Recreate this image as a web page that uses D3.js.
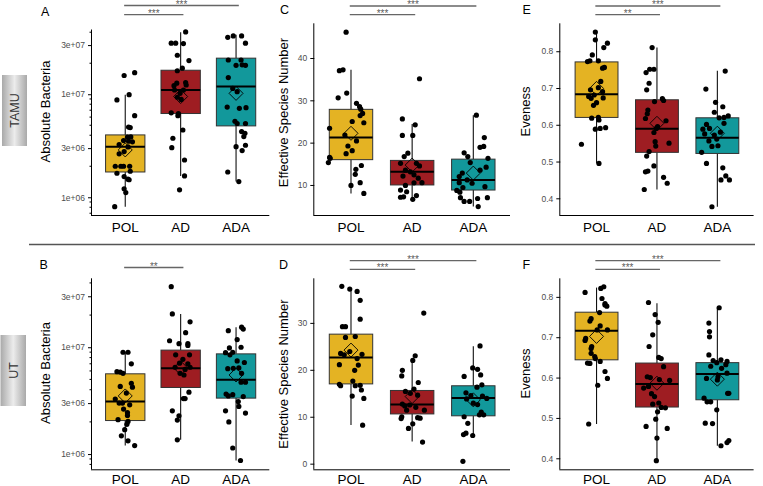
<!DOCTYPE html>
<html><head><meta charset="utf-8">
<script src="https://cdn.jsdelivr.net/npm/d3@7"></script>
<style>body{margin:0;background:#fff}svg{display:block;font-family:"Liberation Sans",Arial,Helvetica,sans-serif}</style>
</head><body><svg id="chart" width="763" height="486"></svg>
<script>
// ---------------- DATA ----------------
const categories = ["POL", "AD", "ADA"];
const groupColors = ["#E4B323", "#9E1D22", "#12989B"];
const rowLabels = ["TAMU", "UT"];
const logTicks = [1e6, 3e6, 1e7, 3e7];
const richTicks = [10, 20, 30, 40];
const richTicksUT = [0, 10, 20, 30];
const evenTicks = [0.4, 0.5, 0.6, 0.7, 0.8];

// box summaries: [lower whisker, Q1, median, Q3, upper whisker]
const boxA = [[8.1e5, 1.76e6, 3.1e6, 4.03e6, 9.9e6], [1.61e6, 6.5e6, 1.10e7, 1.71e7, 4.0e7], [1.42e6, 4.93e6, 1.19e7, 2.24e7, 3.77e7]];
const meanA = [2.88e6, 9.5e6, 1.02e7];
const boxB = [[1.2e6, 2.06e6, 3.1e6, 5.64e6, 8.98e6], [1.36e6, 4.2e6, 6.37e6, 9.4e6, 2.05e7], [8.7e5, 3.34e6, 4.95e6, 8.67e6, 1.54e7]];
const meanB = [3.5e6, 6.4e6, 5.5e6];
const boxC = [[8.0, 15.98, 21.2, 27.87, 37.2], [6.6, 10.0, 13.1, 15.8, 24.4], [4.9, 8.8, 11.2, 16.1, 26.5]];
const meanC = [22.2, 14.7, 12.8];
const boxD = [[8.25, 17.0, 22.6, 27.6, 37.2], [4.7, 10.6, 12.6, 15.6, 21.7], [6.0, 10.2, 14.0, 16.6, 25.0]];
const meanD = [24.2, 14.3, 13.6];
const boxE = [[0.495, 0.620, 0.683, 0.771, 0.852], [0.424, 0.525, 0.589, 0.668, 0.81], [0.377, 0.522, 0.565, 0.619, 0.747]];
const meanE = [0.699, 0.604, 0.577];
const boxF = [[0.485, 0.644, 0.716, 0.762, 0.823], [0.396, 0.527, 0.584, 0.636, 0.784], [0.431, 0.545, 0.609, 0.637, 0.773]];
const meanF = [0.702, 0.586, 0.596];

// individual samples: [value, jitter (fraction of category step)]
const ptsA_POL = [[1.52e7,-0.02],[1.62e7,0.17],[8.8e6,-0.15],[9.9e6,0.07],[6.2e6,0.17],[4.8e6,0.06],[4.75e6,0.09],[3.85e6,0.10],[3.83e6,0.04],[3.55e6,-0.03],[3.5e6,0.06],[3.45e6,0.13],[3.25e6,-0.11],[3.08e6,0.05],[2.78e6,-0.02],[2.64e6,-0.11],[2.0e6,-0.18],[2.0e6,-0.08],[2.0e6,-0.03],[2.0e6,0.08],[1.79e6,0.09],[1.71e6,-0.15],[1.59e6,-0.02],[1.50e6,0.05],[1.48e6,0.07],[1.21e6,-0.02],[1.11e6,0.01],[8.1e5,-0.19]];
const ptsA_AD = [[4.03e7,0.09],[3.13e7,-0.17],[3.13e7,-0.09],[3.1e7,0.05],[2.39e7,-0.06],[2.12e7,0.15],[1.79e7,0.03],[1.69e7,-0.06],[1.30e7,0.09],[1.28e7,-0.07],[1.23e7,0.10],[1.21e7,-0.12],[1.10e7,-0.11],[1.10e7,0.05],[1.02e7,-0.01],[9.35e6,-0.06],[8.9e6,0.01],[6.6e6,-0.17],[6.5e6,-0.04],[6.2e6,-0.05],[4.5e6,0.04],[3.74e6,-0.14],[3.03e6,-0.16],[2.30e6,0.07],[1.61e6,0.07],[1.18e6,-0.02]];
const ptsA_ADA = [[3.68e7,-0.05],[3.68e7,0.10],[3.57e7,-0.15],[3.13e7,0.17],[2.15e7,-0.14],[2.15e7,0.09],[1.91e7,0.0],[1.93e7,0.11],[1.91e7,0.17],[1.45e7,-0.14],[1.14e7,-0.06],[1.06e7,0.02],[7.5e6,-0.16],[7.3e6,0.06],[7.4e6,0.18],[5.47e6,-0.02],[5.2e6,0.02],[5.2e6,0.17],[4.34e6,0.10],[4.18e6,0.16],[3.88e6,0.14],[3.1e6,0.0],[3.2e6,0.17],[2.84e6,0.11],[1.76e6,-0.15],[1.42e6,0.05]];
const ptsB_POL = [[8.98e6,-0.04],[8.98e6,0.05],[7.0e6,0.11],[5.9e6,-0.15],[5.85e6,-0.09],[5.7e6,-0.04],[4.6e6,0.11],[4.23e6,0.13],[4.3e6,-0.09],[3.72e6,0.02],[3.27e6,-0.18],[3.0e6,-0.11],[3.0e6,-0.05],[2.89e6,0.08],[2.64e6,-0.03],[2.45e6,0.04],[2.3e6,0.04],[2.1e6,-0.13],[2.02e6,0.05],[1.9e6,0.03],[1.69e6,-0.01],[1.48e6,-0.07],[1.33e6,0.05],[1.2e6,0.17]];
const ptsB_AD = [[3.69e7,-0.17],[2.05e7,-0.15],[1.73e7,0.17],[1.37e7,0.09],[1.15e7,-0.2],[1.08e7,-0.03],[1.08e7,0.13],[1.04e7,0.13],[8.5e6,-0.09],[8.5e6,0.16],[7.7e6,0.04],[7.1e6,-0.02],[7.0e6,0.13],[6.5e6,-0.1],[6.5e6,0.17],[6.2e6,0.08],[5.7e6,-0.01],[5.5e6,0.06],[3.8e6,0.15],[3.31e6,0.05],[3.31e6,0.08],[2.54e6,-0.15],[2.28e6,-0.03],[2.08e6,-0.06],[1.36e6,-0.06]];
const ptsB_ADA = [[1.54e7,0.10],[1.48e7,0.13],[1.43e7,-0.14],[1.18e7,0.02],[9.86e6,-0.12],[1.0e7,0.09],[8.98e6,-0.06],[8.5e6,-0.11],[8.9e6,-0.19],[7.45e6,0.02],[7.2e6,0.15],[6.3e6,-0.15],[6.35e6,-0.05],[6.4e6,0.05],[5.7e6,0.10],[4.7e6,0.17],[4.7e6,0.09],[3.64e6,-0.18],[3.5e6,-0.14],[3.6e6,-0.06],[3.45e6,0.13],[3.1e6,0.04],[2.79e6,0.05],[2.54e6,-0.19],[2.42e6,0.17],[2.0e6,-0.13],[1.14e6,-0.06],[8.7e5,0.08]];
const ptsC_POL = [[46.1,-0.08],[37.0,-0.19],[37.2,-0.13],[31.7,-0.07],[30.6,-0.21],[29.3,0.09],[28.5,0.14],[27.9,0.16],[26.9,0.19],[26.4,0.15],[24.7,0.21],[25.0,0.02],[23.4,-0.35],[21.8,-0.10],[20.4,0.09],[19.2,-0.05],[18.1,0.02],[17.4,-0.08],[16.5,-0.35],[16.3,-0.34],[15.3,-0.37],[14.6,0.17],[13.7,0.08],[12.5,0.07],[10.55,0.15],[9.9,0.0],[8.0,0.21]];
const ptsC_AD = [[35.1,0.12],[25.6,-0.16],[24.2,0.05],[21.7,-0.16],[21.7,0.01],[17.5,-0.07],[16.7,-0.13],[15.1,0.07],[15.1,-0.19],[14.5,0.12],[13.5,-0.11],[13.1,-0.03],[12.4,0.03],[12.1,-0.15],[11.6,0.10],[10.55,0.16],[10.5,0.03],[9.9,-0.11],[8.8,-0.19],[8.4,-0.09],[7.2,-0.14],[7.1,-0.19],[7.5,0.07],[6.6,0.01]];
const ptsC_ADA = [[26.5,0.05],[21.2,0.18],[18.9,0.11],[19.1,0.17],[17.6,-0.15],[16.7,-0.09],[16.3,0.24],[15.3,-0.05],[14.2,0.21],[13.5,0.11],[12.8,-0.18],[12.0,-0.23],[11.2,-0.10],[10.55,-0.23],[10.4,-0.02],[9.6,0.19],[9.4,-0.17],[8.7,-0.27],[8.3,-0.22],[7.0,-0.21],[6.8,0.07],[7.0,0.23],[6.1,-0.06],[6.1,-0.15],[4.9,0.08]];
const ptsD_POL = [[37.8,-0.15],[37.2,-0.02],[36.7,0.10],[34.8,0.15],[30.8,0.15],[29.2,-0.14],[29.2,-0.09],[26.9,-0.09],[27.1,0.07],[23.5,-0.17],[23.2,-0.11],[23.3,0.18],[23.9,-0.02],[22.4,0.10],[21.1,-0.19],[21.0,0.12],[19.9,0.06],[16.9,-0.19],[16.6,-0.17],[17.6,0.03],[16.6,0.07],[16.7,0.15],[15.7,0.17],[14.4,0.02],[13.9,0.21],[8.2,0.19]];
const ptsD_AD = [[32.1,0.19],[23.0,0.05],[22.0,0.01],[19.9,-0.16],[18.7,-0.17],[17.3,0.10],[15.9,0.03],[15.4,-0.11],[15.0,-0.03],[14.6,0.09],[12.7,-0.16],[12.5,-0.04],[12.0,0.06],[12.3,-0.12],[11.4,-0.09],[11.4,0.20],[10.0,-0.17],[9.6,-0.18],[9.8,0.09],[9.7,0.13],[8.5,0.01],[7.5,-0.06],[4.6,0.17]];
const ptsD_ADA = [[25.1,0.11],[20.4,-0.01],[20.1,0.07],[18.9,0.12],[18.6,-0.15],[16.3,0.06],[16.8,0.14],[15.1,-0.12],[14.4,0.15],[13.9,0.22],[14.5,-0.04],[13.8,-0.11],[12.9,0.0],[12.6,0.07],[11.0,0.13],[10.4,0.10],[10.4,0.17],[10.0,-0.15],[8.6,-0.09],[6.5,-0.12],[6.2,-0.16],[6.0,-0.01],[0.5,-0.17]];
const ptsE_POL = [[0.852,-0.02],[0.831,-0.02],[0.822,0.18],[0.810,0.12],[0.790,-0.07],[0.772,-0.15],[0.774,-0.11],[0.774,0.03],[0.756,0.13],[0.754,0.10],[0.718,0.07],[0.701,0.03],[0.695,-0.10],[0.690,0.10],[0.681,-0.04],[0.677,-0.13],[0.672,-0.09],[0.673,0.11],[0.660,0.0],[0.653,-0.05],[0.620,0.03],[0.618,-0.08],[0.613,0.04],[0.592,0.15],[0.588,-0.02],[0.590,0.06],[0.547,-0.25],[0.495,0.04]];
const ptsE_AD = [[0.810,-0.08],[0.751,-0.12],[0.751,-0.05],[0.742,-0.18],[0.713,-0.13],[0.695,-0.17],[0.671,0.09],[0.666,0.11],[0.663,-0.04],[0.640,-0.15],[0.630,-0.16],[0.617,-0.19],[0.611,0.15],[0.595,0.01],[0.590,-0.01],[0.579,-0.05],[0.554,-0.03],[0.550,0.20],[0.542,-0.02],[0.527,-0.13],[0.515,-0.17],[0.488,-0.05],[0.474,-0.15],[0.472,-0.19],[0.457,0.11],[0.441,0.17],[0.424,-0.21]];
const ptsE_ADA = [[0.746,0.13],[0.697,-0.19],[0.661,-0.03],[0.649,0.09],[0.634,-0.05],[0.624,0.18],[0.620,0.11],[0.619,0.03],[0.604,0.11],[0.601,-0.18],[0.590,-0.13],[0.588,-0.24],[0.575,-0.21],[0.572,-0.05],[0.580,0.05],[0.561,-0.01],[0.556,-0.14],[0.543,0.01],[0.541,-0.09],[0.525,-0.26],[0.495,-0.18],[0.483,0.09],[0.461,0.14],[0.450,0.20],[0.450,0.06],[0.377,-0.09]];
const ptsF_POL = [[0.825,0.12],[0.821,0.07],[0.811,-0.19],[0.796,0.09],[0.783,0.14],[0.777,0.17],[0.780,0.14],[0.761,0.05],[0.746,-0.09],[0.740,-0.11],[0.728,0.06],[0.718,0.01],[0.718,0.18],[0.697,-0.18],[0.692,-0.19],[0.677,-0.08],[0.672,-0.09],[0.652,-0.03],[0.647,-0.02],[0.660,-0.09],[0.640,0.06],[0.636,-0.15],[0.635,-0.11],[0.615,0.14],[0.598,0.18],[0.581,0.02],[0.485,-0.13]];
const ptsF_AD = [[0.786,-0.14],[0.756,-0.03],[0.737,0.02],[0.706,-0.07],[0.677,-0.13],[0.650,0.03],[0.647,0.07],[0.627,0.11],[0.602,-0.16],[0.600,-0.11],[0.595,0.04],[0.593,0.21],[0.574,-0.22],[0.578,-0.14],[0.560,-0.09],[0.553,-0.04],[0.537,0.03],[0.534,-0.07],[0.526,0.07],[0.525,0.14],[0.515,0.01],[0.497,-0.02],[0.479,-0.18],[0.474,0.17],[0.450,0.0],[0.394,-0.01]];
const ptsF_ADA = [[0.773,0.03],[0.735,-0.14],[0.714,-0.13],[0.701,-0.13],[0.656,-0.14],[0.644,0.06],[0.642,-0.07],[0.640,0.16],[0.637,-0.01],[0.628,-0.11],[0.632,0.14],[0.623,0.07],[0.611,0.16],[0.602,0.01],[0.598,-0.18],[0.594,0.0],[0.561,0.17],[0.561,0.19],[0.549,-0.22],[0.540,-0.17],[0.540,-0.11],[0.520,-0.01],[0.487,-0.20],[0.486,-0.08],[0.444,0.19],[0.439,0.16],[0.431,0.06]];

// significance brackets: [from, to, label, level(0 = upper, 1 = lower)]
const sigA = [["POL","ADA","***",0],["POL","AD","***",1]];
const sigB = [["POL","AD","**",1]];
const sigC = [["POL","ADA","***",0],["POL","AD","***",1]];
const sigD = [["POL","ADA","***",0],["POL","AD","***",1]];
const sigE = [["POL","ADA","***",0],["POL","AD","**",1]];
const sigF = [["POL","ADA","***",0],["POL","AD","***",1]];

// ---------------- LAYOUT ----------------
const panels = [
  {letter:"A", title:"Absolute Bacteria", box:boxA, mean:meanA, pts:[ptsA_POL,ptsA_AD,ptsA_ADA], sig:sigA, log:true, domain:[6.73e5,4.25e7], ticks:logTicks,
   left:92, right:269.3, top:29.5, bottom:215, letterPos:[41,15.5], titleX:50, titleY:111.5, labelY:231.5, sigY:[5.5,14.7]},
  {letter:"B", title:"Absolute Bacteria", box:boxB, mean:meanB, pts:[ptsB_POL,ptsB_AD,ptsB_ADA], sig:sigB, log:true, domain:[7.2e5,4.42e7], ticks:logTicks,
   left:92, right:269.3, top:278.3, bottom:469.3, letterPos:[39.5,268.5], titleX:50, titleY:373, labelY:484, sigY:[260.7,267.5]},
  {letter:"C", title:"Effective Species Number", box:boxC, mean:meanC, pts:[ptsC_POL,ptsC_AD,ptsC_ADA], sig:sigC, log:false, domain:[2.9,48.2], ticks:richTicks,
   left:314.3, right:510, top:23.3, bottom:215, letterPos:[280,14], titleX:287.5, titleY:112.5, labelY:231.5, sigY:[6,14.7]},
  {letter:"D", title:"Effective Species Number", box:boxD, mean:meanD, pts:[ptsD_POL,ptsD_AD,ptsD_ADA], sig:sigD, log:false, domain:[-1.2,39.5], ticks:richTicksUT,
   left:314.3, right:510, top:278.3, bottom:469.3, letterPos:[279,268.5], titleX:287.5, titleY:374, labelY:484, sigY:[260.7,269.3]},
  {letter:"E", title:"Eveness", box:boxE, mean:meanE, pts:[ptsE_POL,ptsE_AD,ptsE_ADA], sig:sigE, log:false, domain:[0.3546,0.876], ticks:evenTicks,
   left:560.3, right:753.6, top:23.3, bottom:215, letterPos:[522.5,14], titleX:530, titleY:111.5, labelY:231.5, sigY:[6,14.7]},
  {letter:"F", title:"Eveness", box:boxF, mean:meanF, pts:[ptsF_POL,ptsF_AD,ptsF_ADA], sig:sigF, log:false, domain:[0.3727,0.846], ticks:evenTicks,
   left:560.3, right:753.6, top:278.3, bottom:469.3, letterPos:[522.5,268.5], titleX:530, titleY:373.5, labelY:484, sigY:[260.7,269.3]}
];

const svg = d3.select("#chart");

function logLabel(v){
  const [m, e] = v.toExponential(0).split("e");
  const sign = e[0];
  return m + "e" + sign + e.slice(1).padStart(2, "0");
}

// row labels (gradient tabs)
const defs = svg.append("defs");
const grad = defs.append("linearGradient").attr("id","tabGrad").attr("x1","0").attr("x2","1").attr("y1","0").attr("y2","0");
grad.append("stop").attr("offset","0%").attr("stop-color","#a9a9a9");
grad.append("stop").attr("offset","50%").attr("stop-color","#ececec");
grad.append("stop").attr("offset","100%").attr("stop-color","#a9a9a9");
const tabs = [{x:2, y:75, w:25, h:71}, {x:0.5, y:335, w:25.5, h:71}];
tabs.forEach((t, i) => {
  svg.append("rect").attr("x",t.x).attr("y",t.y).attr("width",t.w).attr("height",t.h).attr("fill","url(#tabGrad)");
  svg.append("text").attr("transform",`translate(${t.x + t.w/2 + 4.5},${t.y + t.h/2}) rotate(-90)`)
    .attr("text-anchor","middle").attr("font-size",12.5).attr("fill","#333").text(rowLabels[i]);
});

// separator
svg.append("line").attr("x1",29).attr("x2",755).attr("y1",244.5).attr("y2",244.5).attr("stroke","#555").attr("stroke-width",1.6);

panels.forEach(p => {
  const g = svg.append("g");
  const x = d3.scalePoint().domain(categories).range([p.left, p.right]).padding(0.6);
  const step = x.step();
  const y = (p.log ? d3.scaleLog() : d3.scaleLinear()).domain(p.domain).range([p.bottom, p.top]);
  const bw = step * 0.71;

  // y axis
  const yAxis = d3.axisLeft(y).tickValues(p.ticks).tickSize(4).tickPadding(3)
    .tickFormat(p.log ? logLabel : d3.format("~g"));
  const ya = g.append("g").attr("transform",`translate(${p.left},0)`).call(yAxis);
  ya.select(".domain").attr("stroke","#000").attr("stroke-width",1).attr("d",`M-0.5,${p.top}V${p.bottom}`);
  ya.selectAll(".tick line").attr("stroke","#000");
  ya.selectAll(".tick text").attr("font-size",8.5).attr("fill","#4d4d4d").attr("font-family","Liberation Sans, Arial, sans-serif");
  if (p.log) {
    const minor = [];
    for (let k = 5; k <= 7; k++) for (let m = 1; m <= 9; m++) {
      const v = m * Math.pow(10, k);
      if (v >= p.domain[0] && v <= p.domain[1] && !p.ticks.includes(v)) minor.push(v);
    }
    g.append("g").selectAll("line").data(minor).join("line")
      .attr("x1", p.left - 2.5).attr("x2", p.left).attr("y1", d => y(d)).attr("y2", d => y(d))
      .attr("stroke","#000").attr("stroke-width",1);
  }
  // x axis line
  g.append("line").attr("x1",p.left - 1).attr("x2",p.right).attr("y1",p.bottom + 0.5).attr("y2",p.bottom + 0.5).attr("stroke","#000").attr("stroke-width",1);
  // category labels
  g.append("g").selectAll("text").data(categories).join("text")
    .attr("x", d => x(d)).attr("y", p.labelY).attr("text-anchor","middle").attr("font-size",13.5).attr("fill","#000").text(d => d);

  // y title
  g.append("text").attr("transform",`translate(${p.titleX},${p.titleY}) rotate(-90)`)
    .attr("text-anchor","middle").attr("font-size",13).attr("fill","#000").text(p.title);
  // panel letter
  g.append("text").attr("x",p.letterPos[0]).attr("y",p.letterPos[1]).attr("font-size",12.5).attr("fill","#000").text(p.letter);

  // boxes
  categories.forEach((c, i) => {
    const [lo, q1, med, q3, hi] = p.box[i];
    const cx = x(c);
    g.append("line").attr("x1",cx).attr("x2",cx).attr("y1",y(hi)).attr("y2",y(q3)).attr("stroke","#111").attr("stroke-width",1.1);
    g.append("line").attr("x1",cx).attr("x2",cx).attr("y1",y(q1)).attr("y2",y(lo)).attr("stroke","#111").attr("stroke-width",1.1);
    g.append("rect").attr("x",cx - bw/2).attr("y",y(q3)).attr("width",bw).attr("height",y(q1) - y(q3))
      .attr("fill",groupColors[i]).attr("stroke","#333").attr("stroke-width",1);
    g.append("line").attr("x1",cx - bw/2).attr("x2",cx + bw/2).attr("y1",y(med)).attr("y2",y(med)).attr("stroke","#000").attr("stroke-width",2);
    // mean diamond
    const my = y(p.mean[i]), r = 7;
    g.append("path").attr("d",`M${cx},${my - r}L${cx + r},${my}L${cx},${my + r}L${cx - r},${my}Z`)
      .attr("fill","none").attr("stroke","#000").attr("stroke-width",0.9);
    // points
    g.append("g").selectAll("circle").data(p.pts[i]).join("circle")
      .attr("cx", d => cx + d[1] * step).attr("cy", d => y(d[0])).attr("r",2.6).attr("fill","#000");
  });

  // significance brackets
  p.sig.forEach(s => {
    const ly = p.sigY[s[3]];
    const x1 = x(s[0]) - 0.02 * step, x2 = x(s[1]) + 0.05 * step;
    g.append("line").attr("x1",x1).attr("x2",x2).attr("y1",ly).attr("y2",ly).attr("stroke","#666").attr("stroke-width",1.3);
    g.append("text").attr("x",(x1 + x2)/2).attr("y",ly + 2).attr("text-anchor","middle").attr("font-size",10)
      .attr("fill","#555").attr("fill-opacity",0.99).text(s[2]);
  });
});
</script>
</body></html>
